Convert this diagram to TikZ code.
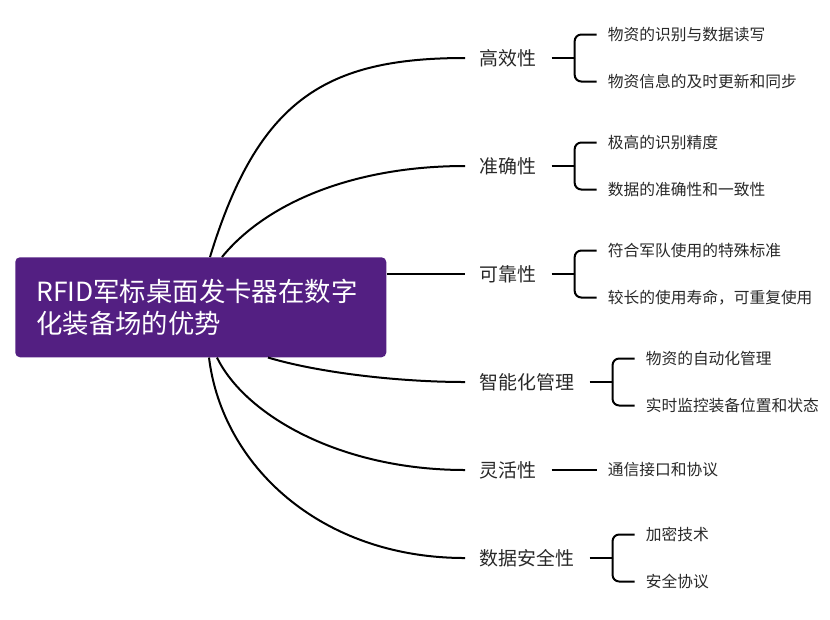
\documentclass[tikz,border=0pt]{standalone}
\usepackage{fontspec}
\setmainfont{Noto Sans CJK SC}
\usetikzlibrary{calc}
\definecolor{rootpurple}{RGB}{83,31,130}
\definecolor{txt}{RGB}{40,40,40}
\begin{document}
\begin{tikzpicture}[x=0.75pt,y=-0.75pt,
  rootbox/.style={fill=rootpurple, rounded corners=3.5pt, text=white,
    font=\fontsize{19.8}{24}\selectfont, align=left, anchor=north west,
    minimum width=278.25pt, minimum height=75pt, inner xsep=15.75pt, inner ysep=0pt,
    text width=246.75pt},
  lone/.style={font=\fontsize{14.2}{17}\selectfont, text=txt, anchor=west, inner xsep=11pt, inner ysep=2pt},
  leaf/.style={font=\fontsize{11.8}{14}\selectfont, text=txt, anchor=west, inner xsep=8.25pt, inner ysep=2pt},
  conn/.style={line width=1.5pt, black},
  brace/.style={line width=1.5pt, black, rounded corners=5pt}]
\useasboundingbox (0,0) rectangle (830,619);

\node[rootbox] (root) at (15,257) {RFID军标桌面发卡器在数字\\化装备场的优势};

\node[lone] (a) at (465,58) {高效性};
\node[lone] (b) at (465,166) {准确性};
\node[lone] (c) at (465,274) {可靠性};
\node[lone] (d) at (465,382) {智能化管理};
\node[lone] (e) at (465,470) {灵活性};
\node[lone] (f) at (465,558) {数据安全性};

% curves
\draw[conn] ($(root.north west)+(195,0)$) .. controls (258,100) and (325,58) .. (a.west);
\draw[conn] ($(root.north west)+(207,0)$) .. controls (267,202) and (355,166) .. (b.west);
\draw[conn] (root.east |- c.west) -- (c.west);
\draw[conn] ($(root.south west)+(253,0)$) .. controls (320,373) and (400,382) .. (d.west);
\draw[conn] ($(root.south west)+(202,0)$) .. controls (245,415) and (340,470) .. (e.west);
\draw[conn] ($(root.south west)+(194,0)$) .. controls (222,465) and (320,558) .. (f.west);

% brackets
\foreach \p/\ta/\tb in {a/物资的识别与数据读写/物资信息的及时更新和同步,
                       b/极高的识别精度/数据的准确性和一致性,
                       c/符合军队使用的特殊标准/{较长的使用寿命，可重复使用},
                       d/物资的自动化管理/实时监控装备位置和状态,
                       f/加密技术/安全协议}{
  \coordinate (\p j) at ($(\p.east)+(23,0)$);
  \node[leaf] (\p1) at ($(\p j)+(22,-23.5)$) {\ta};
  \node[leaf] (\p2) at ($(\p j)+(22,23.5)$) {\tb};
  \draw[conn] (\p.east) -- (\p j);
  \draw[brace] (\p j) |- (\p1.west);
  \draw[brace] (\p j) |- (\p2.west);
}

\node[leaf] (e1) at ($(e.east)+(45,0)$) {通信接口和协议};
\draw[conn] (e.east) -- (e1.west);
\end{tikzpicture}
\end{document}
